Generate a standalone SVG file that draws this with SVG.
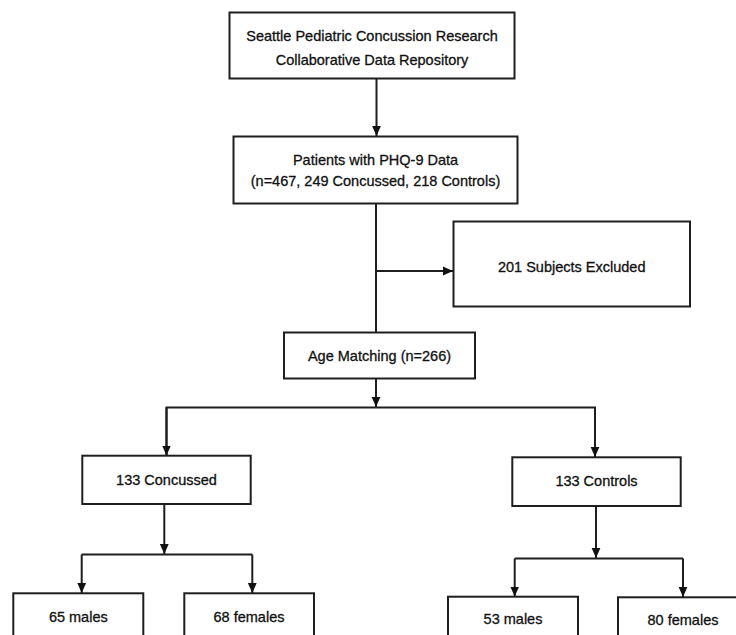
<svg xmlns="http://www.w3.org/2000/svg" width="736" height="635" viewBox="0 0 736 635">
<style>
.box{fill:#ffffff;stroke:#1e1e1e;stroke-width:2}
.lbl{font-family:"Liberation Sans",Arial,sans-serif;font-size:14.5px;fill:#111111;stroke:#111111;stroke-width:0.3;text-anchor:middle}
.ln{fill:none;stroke:#1e1e1e;stroke-width:2}
.arr{marker-end:url(#ah)}
</style>
<defs>
<marker id="ah" markerUnits="userSpaceOnUse" markerWidth="10" markerHeight="11" viewBox="0 0 10 10" refX="10" refY="5" orient="auto">
<path d="M0,0.6 L10,5 L0,9.4 Z" fill="#111111"/>
</marker>
</defs>
<rect width="736" height="635" fill="#ffffff"/>
<g id="connectors">
<line class="ln arr" x1="376.5" y1="78.5" x2="376.5" y2="136"/>
<line class="ln" x1="376" y1="203.5" x2="376" y2="332.5"/>
<line class="ln arr" x1="376" y1="271" x2="453" y2="271"/>
<line class="ln arr" x1="376" y1="378.5" x2="376" y2="407"/>
<polyline class="ln" points="166.5,455 166.5,407.5 595,407.5 595,457"/>
<line class="ln arr" x1="166.5" y1="407.5" x2="166.5" y2="455.5"/>
<line class="ln arr" x1="595" y1="407.5" x2="595" y2="457"/>
<line class="ln arr" x1="164.3" y1="504" x2="164.3" y2="554"/>
<polyline class="ln" points="81.7,554.5 252.3,554.5"/>
<line class="ln arr" x1="81.7" y1="554.5" x2="81.7" y2="593"/>
<line class="ln arr" x1="252.3" y1="554.5" x2="252.3" y2="593"/>
<line class="ln arr" x1="596" y1="506" x2="596" y2="558"/>
<polyline class="ln" points="514.7,558.5 683,558.5"/>
<line class="ln arr" x1="514.7" y1="558.5" x2="514.7" y2="596.5"/>
<line class="ln arr" x1="683" y1="558.5" x2="683" y2="597"/>
</g>
<g id="repository">
<rect class="box" x="229.5" y="12.5" width="285" height="66"/>
<text class="lbl" x="372" y="40.5">Seattle Pediatric Concussion Research</text>
<text class="lbl" x="372" y="65">Collaborative Data Repository</text>
</g>
<g id="phq9">
<rect class="box" x="233.5" y="136.5" width="284" height="67"/>
<text class="lbl" x="375.5" y="165">Patients with PHQ-9 Data</text>
<text class="lbl" x="375.5" y="186">(n=467, 249 Concussed, 218 Controls)</text>
</g>
<g id="excluded">
<rect class="box" x="453.5" y="221.5" width="236.5" height="85"/>
<text class="lbl" x="571.7" y="272">201 Subjects Excluded</text>
</g>
<g id="agematching">
<rect class="box" x="284" y="332.5" width="191" height="46"/>
<text class="lbl" x="379.5" y="361">Age Matching (n=266)</text>
</g>
<g id="concussed">
<rect class="box" x="82.3" y="455.7" width="168.4" height="48.3"/>
<text class="lbl" x="166.5" y="484.5">133 Concussed</text>
</g>
<g id="controls">
<rect class="box" x="512.3" y="457.3" width="168.4" height="48.7"/>
<text class="lbl" x="596.5" y="485.5">133 Controls</text>
</g>
<g id="conc-males">
<rect class="box" x="13.3" y="593.3" width="130" height="60"/>
<text class="lbl" x="78.3" y="621.5">65 males</text>
</g>
<g id="conc-females">
<rect class="box" x="184.3" y="593.3" width="129.7" height="60"/>
<text class="lbl" x="249" y="621.5">68 females</text>
</g>
<g id="ctrl-males">
<rect class="box" x="448" y="596.7" width="130" height="60"/>
<text class="lbl" x="513" y="624">53 males</text>
</g>
<g id="ctrl-females">
<rect class="box" x="618" y="597.3" width="130" height="60"/>
<text class="lbl" x="683" y="625">80 females</text>
</g>
</svg>
